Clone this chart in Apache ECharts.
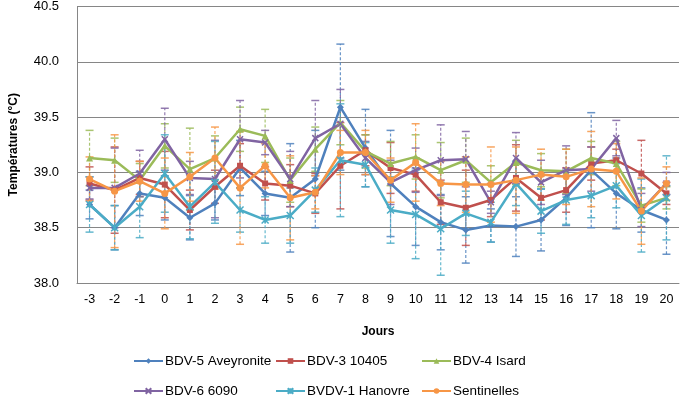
<!DOCTYPE html>
<html><head><meta charset="utf-8">
<script src="https://cdn.jsdelivr.net/npm/echarts@6/dist/echarts.min.js"></script>
<style>html,body{margin:0;padding:0;background:#fff}#c{width:683px;height:409px}</style>
</head><body><div id="c"></div>
<script>
const days = ['-3','-2','-1','0','1','2','3','4','5','6','7','8','9','10','11','12','13','14','15','16','17','18','19','20'];
const yTicks = [38.0, 38.5, 39.0, 39.5, 40.0, 40.5];

const aveyronite    = [38.71,38.50,38.81,38.77,38.59,38.72,39.04,38.81,38.77,38.94,39.59,39.22,38.90,38.69,38.55,38.48,38.52,38.51,38.57,38.77,39.02,38.81,38.66,38.57];
const aveyroniteErr = [0.13,0.20,0.20,0.20,0.20,0.15,0.25,0.20,0.49,0.44,0.57,0.35,0.48,0.35,0.25,0.30,0.15,0.27,0.28,0.25,0.52,0.32,0.20,0.31];
const b10405        = [38.90,38.84,38.95,38.89,38.66,38.87,39.06,38.90,38.88,38.81,39.06,39.20,39.04,38.98,38.73,38.68,38.75,38.95,38.77,38.84,39.08,39.11,38.99,38.81];
const b10405Err     = [0.15,0.39,0.15,0.30,0.18,0.15,0.20,0.15,0.19,0.18,0.39,0.14,0.23,0.15,0.20,0.34,0.15,0.30,0.20,0.20,0.15,0.10,0.30,0.10];
const isard         = [39.13,39.11,38.93,39.24,39.03,39.13,39.39,39.33,38.93,39.21,39.45,39.19,39.08,39.14,39.02,39.11,38.91,39.09,39.02,39.01,39.13,39.08,38.70,38.77];
const isardErr      = [0.25,0.20,0.15,0.20,0.37,0.20,0.20,0.24,0.20,0.20,0.20,0.15,0.20,0.20,0.25,0.20,0.15,0.20,0.15,0.20,0.15,0.20,0.15,0.10];
const b6090         = [38.86,38.86,38.99,39.30,38.95,38.94,39.30,39.27,38.94,39.31,39.44,39.13,38.91,39.02,39.11,39.12,38.73,39.13,38.91,39.02,39.03,39.31,38.66,38.90];
const b6090Err      = [0.10,0.36,0.21,0.28,0.15,0.35,0.35,0.11,0.25,0.34,0.31,0.15,0.20,0.20,0.32,0.25,0.10,0.23,0.20,0.22,0.20,0.16,0.15,0.10];
const hanovre       = [38.71,38.50,38.69,38.99,38.69,38.91,38.66,38.57,38.61,38.84,39.11,39.07,38.66,38.62,38.49,38.63,38.55,38.90,38.65,38.75,38.79,38.88,38.61,38.77];
const hanovreErr    = [0.25,0.20,0.28,0.35,0.29,0.37,0.20,0.21,0.25,0.20,0.51,0.20,0.30,0.40,0.42,0.20,0.18,0.20,0.20,0.22,0.20,0.20,0.33,0.38];
const sentinelles   = [38.94,38.83,38.92,38.81,38.96,39.13,38.86,39.06,38.77,38.82,39.18,39.18,38.93,39.09,38.90,38.89,38.89,38.93,38.98,38.96,39.03,39.01,38.65,38.90];
const sentinellesErr= [0.20,0.51,0.18,0.32,0.22,0.28,0.51,0.20,0.38,0.15,0.20,0.20,0.20,0.35,0.20,0.25,0.34,0.30,0.23,0.25,0.34,0.25,0.30,0.15];

const names = ['BDV-5 Aveyronite','BDV-3 10405','BDV-4 Isard','BDV-6 6090','BVDV-1 Hanovre','Sentinelles'];
const values = [aveyronite,b10405,isard,b6090,hanovre,sentinelles];
const errors = [aveyroniteErr,b10405Err,isardErr,b6090Err,hanovreErr,sentinellesErr];
const colors = ['#4F81BD','#C0504D','#9BBB59','#8064A2','#4BACC6','#F79646'];
const symbols = ['diamond','rect','triangle','path://M0,0L10,10M10,0L0,10','path://M0,0L10,10M10,0L0,10M5,0L5,10','circle'];
const symbolSizes = [7,6,7,6,7,7];

const FONT = '"Liberation Sans", Arial, sans-serif';
const series = [];
names.forEach((n,i)=>{
  series.push({
    name: 'err'+i, type:'custom', z:1, silent:true,
    data: values[i].map((v,k)=>[k, v-errors[i][k], v+errors[i][k]]),
    encode:{x:0,y:[1,2]},
    renderItem:(params,api)=>{
      const x = api.value(0);
      const lo = api.coord([x, api.value(1)]);
      const hi = api.coord([x, api.value(2)]);
      const st = {stroke: colors[i], lineWidth:1.2, lineDash:[3,2], opacity:0.85};
      const cs = {stroke: colors[i], lineWidth:1.5, opacity:0.85};
      return {type:'group', children:[
        {type:'line', shape:{x1:lo[0],y1:lo[1],x2:hi[0],y2:hi[1]}, style:st},
        {type:'line', shape:{x1:lo[0]-4,y1:lo[1],x2:lo[0]+4,y2:lo[1]}, style:cs},
        {type:'line', shape:{x1:hi[0]-4,y1:hi[1],x2:hi[0]+4,y2:hi[1]}, style:cs}
      ]};
    }
  });
});
names.forEach((n,i)=>{
  const sym = symbols[i];
  const isPath = sym.startsWith('path');
  series.push({
    name:n, type:'line', z:3, data: values[i],
    symbol: sym, symbolSize: symbolSizes[i], showSymbol:true,
    lineStyle:{color:colors[i], width:2.5},
    itemStyle: isPath ? {color:colors[i], borderColor:colors[i], borderWidth:1.5} : {color:colors[i], borderWidth:0},
    animation:false
  });
});

const legendPos = [[128,349],[270,349],[416,349],[128,379],[270,379],[416,379]];
const legends = names.map((n,i)=>({
  data:[n], left:legendPos[i][0], top:legendPos[i][1],
  itemWidth:29, itemHeight:7, itemGap:4,
  textStyle:{fontFamily:FONT, fontSize:13.5, color:'#000', padding:[0,0,0,-3]},
  selectedMode:false
}));

const chart = echarts.init(document.getElementById('c'), null, {renderer:'canvas'});
chart.setOption({
  animation:false,
  backgroundColor:'#fff',
  grid:{left:76, right:4, top:5, bottom:126, containLabel:false},
  legend: legends,
  xAxis:{
    type:'category', data:days, boundaryGap:true,
    name:'Jours', nameLocation:'middle', nameGap:43,
    nameTextStyle:{fontFamily:FONT, fontSize:12, fontWeight:'bold', color:'#000'},
    axisLine:{lineStyle:{color:'#868686'}},
    axisTick:{show:false},
    axisLabel:{fontFamily:FONT, fontSize:12.5, color:'#000', margin:10, interval:0}
  },
  yAxis:{
    type:'value', min:38.0, max:40.5, interval:0.5,
    name:'Températures (°C)', nameLocation:'middle', nameGap:57, nameRotate:90,
    nameTextStyle:{fontFamily:FONT, fontSize:12, fontWeight:'bold', color:'#000'},
    axisLine:{show:true, lineStyle:{color:'#868686'}},
    axisTick:{show:false},
    splitLine:{lineStyle:{color:'#868686', width:1}},
    axisLabel:{fontFamily:FONT, fontSize:13, color:'#000', margin:18,
      formatter:v=>{const t=yTicks.find(x=>Math.abs(x-v)<1e-6); return (t!==undefined?t:v).toFixed(1);}}
  },
  series: series
});
</script></body></html>
